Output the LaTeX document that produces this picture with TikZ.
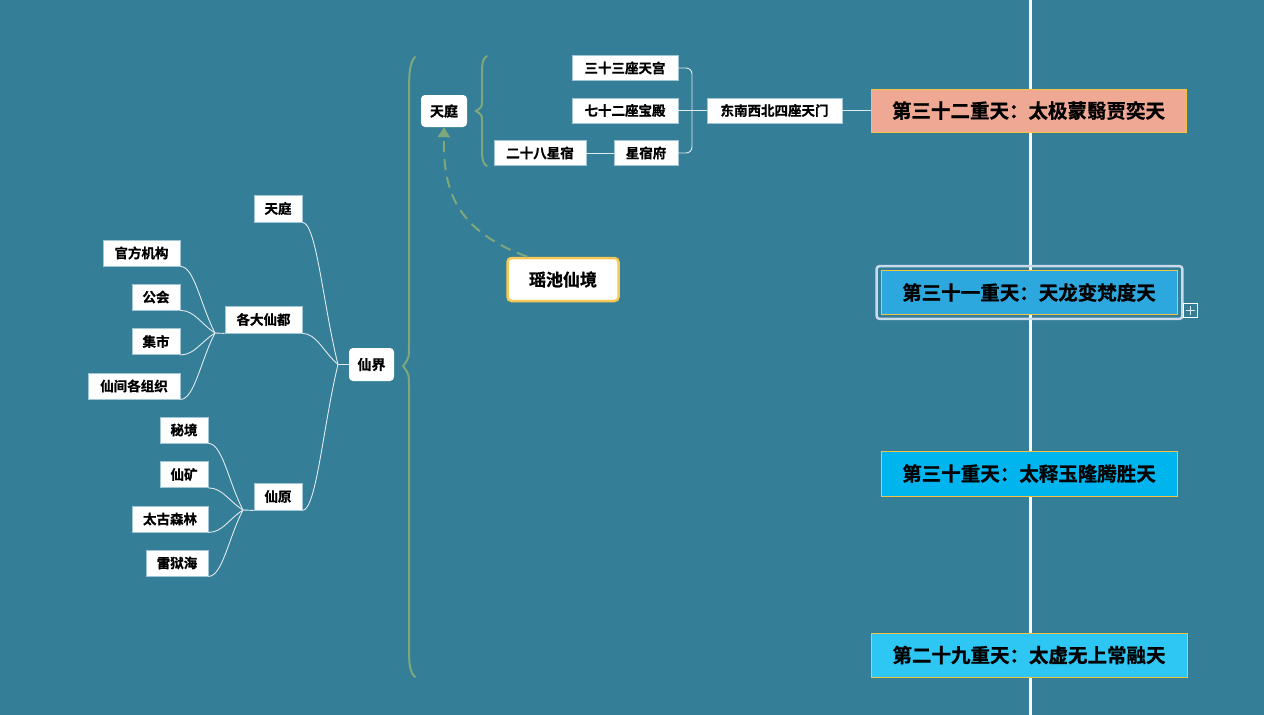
\documentclass[tikz,border=0pt]{standalone}
\usepackage{fontspec}
\setmainfont{Noto Sans CJK SC}[BoldFont={Noto Sans CJK SC Bold},BoldFeatures={FakeBold=0.8}]
\usetikzlibrary{arrows.meta,calc}
\definecolor{bg}{RGB}{53,126,151}
\definecolor{brace}{RGB}{127,167,123}
\definecolor{lnk}{RGB}{225,234,240}
\definecolor{leafborder}{RGB}{160,198,216}
\definecolor{gold}{RGB}{245,194,66}
\definecolor{salmon}{RGB}{239,168,148}
\definecolor{sky}{RGB}{45,168,223}
\definecolor{cyanb}{RGB}{0,180,238}
\definecolor{lightcyan}{RGB}{46,198,243}
\definecolor{selbox}{RGB}{200,218,236}
\tikzset{
  leaf/.style={draw=leafborder, line width=0.8pt, fill=white, inner sep=0pt,
    font=\fontsize{13.5}{14}\selectfont\bfseries, text=black},
  hub/.style={fill=white, rounded corners=4pt, inner sep=0pt,
    font=\fontsize{14}{15}\selectfont\bfseries, text=black},
  heaven/.style={draw=gold, line width=0.8pt, inner sep=0pt,
    font=\fontsize{19.5}{21}\selectfont\bfseries, text=black},
  link/.style={draw=lnk, line width=0.9pt},
  curve/.style={to path={.. controls ($(\tikztostart)+(14,0)$) and ($(\tikztotarget)!0.42!(\tikztostart)$) .. (\tikztotarget)}},
  bracestyle/.style={draw=brace, line width=2pt, line cap=round},
  dasharrow/.style={draw=brace, line width=2pt, dash pattern=on 11pt off 7pt,
    -{Triangle[width=12pt,length=10pt,fill=brace]}},
}
\begin{document}
\begin{tikzpicture}[x=1pt,y=-1pt]
\fill[bg] (0,0) rectangle (1264,715);
\useasboundingbox (0,0) rectangle (1264,715);

% white vertical line
\coordinate (vtop) at (1030,0);
\coordinate (vbot) at (1030,715);
\draw[white, line width=3pt] (vtop) -- (vbot);

% left tree
\node[hub, minimum width=45, minimum height=33] (xj) at (371.5,364.5) {仙界};
\node[leaf, minimum width=48, minimum height=27] (tt1) at (278,208.5) {天庭};
\node[leaf, minimum width=77, minimum height=27] (gd) at (263.5,319.5) {各大仙都};
\node[leaf, minimum width=48, minimum height=27] (xy) at (278,496.5) {仙原};

\node[leaf, minimum width=77, minimum height=26] (gf) at (141.5,253) {官方机构};
\node[leaf, minimum width=48, minimum height=26] (gh) at (156,297) {公会};
\node[leaf, minimum width=48, minimum height=26] (js) at (156,341.5) {集市};
\node[leaf, minimum width=92, minimum height=26] (zz) at (134,386) {仙间各组织};

\node[leaf, minimum width=48, minimum height=26] (mj) at (184,430) {秘境};
\node[leaf, minimum width=48, minimum height=26] (xk) at (184,474.5) {仙矿};
\node[leaf, minimum width=76, minimum height=26] (tg) at (170,519) {太古森林};
\node[leaf, minimum width=62, minimum height=26] (lh) at (177,563) {雷狱海};

\coordinate (J1) at (338,364.5);
\coordinate (J2) at (215,333);
\coordinate (J3) at (243,510);

\draw[link] (tt1.south east) to[curve] (J1);
\draw[link] (gd.south east) to[curve] (J1);
\draw[link] (xy.south east) to[curve] (J1);
\draw[link] (J1) -- (xj.west);

\draw[link] (gf.south east) to[curve] (J2);
\draw[link] (gh.south east) to[curve] (J2);
\draw[link] (js.south east) to[curve] (J2);
\draw[link] (zz.south east) to[curve] (J2);
\draw[link] (J2) -- (gd.south west);

\draw[link] (mj.south east) to[curve] (J3);
\draw[link] (xk.south east) to[curve] (J3);
\draw[link] (tg.south east) to[curve] (J3);
\draw[link] (lh.south east) to[curve] (J3);
\draw[link] (J3) -- (xy.south west);

% big brace
\draw[bracestyle] (415,57) .. controls (410,62) and (409,72) .. (409,92)
  -- (409,345) .. controls (409,358) .. (403,366) .. controls (409,374) .. (409,388)
  -- (409,650) .. controls (409,668) and (411,673) .. (415,677);

% top 天庭 and its brace
\node[hub, minimum width=46, minimum height=32] (tt2) at (444,111) {天庭};
\draw[bracestyle] (487,56) .. controls (483,58) and (482,63) .. (482,73)
  -- (482,100) .. controls (482,107) .. (476,111) .. controls (482,115) .. (482,122)
  -- (482,149) .. controls (482,160) and (483,164) .. (487,166);

% right subtree
\node[leaf, minimum width=106, minimum height=25] (t33) at (625,68) {三十三座天宫};
\node[leaf, minimum width=106, minimum height=25] (t72) at (625,110.5) {七十二座宝殿};
\node[leaf, minimum width=92, minimum height=25] (x28) at (540,153) {二十八星宿};
\node[leaf, minimum width=64, minimum height=25] (xsf) at (646,153) {星宿府};
\node[leaf, minimum width=135, minimum height=25] (dn) at (774.5,110.5) {东南西北四座天门};

\coordinate (B) at (692,110.5);
\draw[link, rounded corners=6pt] (t33.east) -| (B) |- (xsf.east);
\draw[link] (t72.east) -- (dn.west);
\draw[link] (x28.east) -- (xsf.west);

% heavens
\node[heaven, fill=salmon, minimum width=315, minimum height=43] (h32) at (1028.5,110.5) {第三十二重天：太极蒙翳贾奕天};
\draw[link] (dn.east) -- (h32.west);

\node[heaven, fill=sky, minimum width=296, minimum height=44] (h31) at (1029,292.5) {第三十一重天：天龙变梵度天};
\draw[selbox, line width=2.5pt, rounded corners=3pt] ([shift={(-4,-4)}]h31.north west) rectangle ([shift={(5,4)}]h31.south east);
\node[draw=white, line width=0.8pt, minimum size=14, inner sep=0pt] (plus) at (1190.5,310.5) {};
\draw[lnk, line width=1pt] ([xshift=-4.5]plus.center) -- ([xshift=4.5]plus.center);
\draw[lnk, line width=1pt] ([yshift=-4.5]plus.center) -- ([yshift=4.5]plus.center);

\node[heaven, fill=cyanb, minimum width=296, minimum height=45] (h30) at (1029,473.5) {第三十重天：太释玉隆腾胜天};
\node[heaven, fill=lightcyan, minimum width=316, minimum height=44] (h29) at (1029,655) {第二十九重天：太虚无上常融天};

% 瑶池仙境
\node[hub, draw=gold!90!white, line width=2.5pt, minimum width=111, minimum height=43,
  font=\fontsize{17}{18}\selectfont\bfseries] (yc) at (563,279.5) {瑶池仙境};
\draw[dasharrow] ([xshift=21pt]yc.north west) .. controls (455,230) and (443,190) .. (tt2.south);
\end{tikzpicture}
\end{document}
